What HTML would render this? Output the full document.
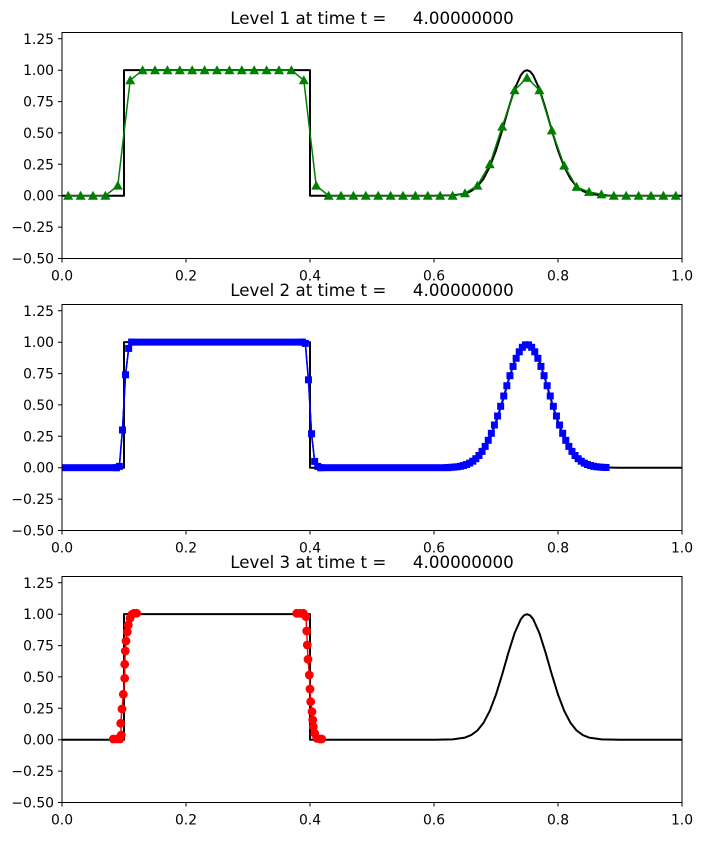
<!DOCTYPE html>
<html><head><meta charset="utf-8"><style>
body{margin:0;background:#fff}
svg text{font-family:"DejaVu Sans","Liberation Sans",sans-serif;fill:#000}
</style></head><body>
<svg width="702" height="836" xmlns="http://www.w3.org/2000/svg">
<defs>
<path id="ex" fill="none" stroke="#000" stroke-width="2" stroke-linejoin="round" d="M62 0 L124 0 L124 -125.56 L310 -125.56 L310 0 L434 0 L452.6 -0.35 L465 -2.1 L471.2 -4.6 L477.4 -9.2 L483.6 -17 L489.8 -28.9 L496 -45.2 L502.2 -65.3 L508.4 -87 L514.6 -106.6 L520.8 -120.5 L523.9 -124.3 L527 -125.56 L530.1 -124.3 L533.2 -120.5 L539.4 -106.6 L545.6 -87 L551.8 -65.3 L558 -45.2 L564.2 -28.9 L570.4 -17 L576.6 -9.2 L582.8 -4.6 L589 -2.1 L601.4 -0.35 L620 0 L682 0"/>
<marker id="tri" markerUnits="userSpaceOnUse" viewBox="-6 -6 12 12" markerWidth="12" markerHeight="12" refX="0" refY="0"><path d="M0 -5 L5 4 L-5 4Z" fill="green"/></marker>
<marker id="sq" markerUnits="userSpaceOnUse" viewBox="-4 -4 8 8" markerWidth="8" markerHeight="8" refX="0" refY="0"><rect x="-3.5" y="-3.5" width="7" height="7" fill="blue"/></marker>
<marker id="dot" markerUnits="userSpaceOnUse" viewBox="-5 -5 10 10" markerWidth="10" markerHeight="10" refX="0" refY="0"><circle r="4.4" fill="red"/></marker>
<clipPath id="c1"><rect x="62" y="32.5" width="620" height="226"/></clipPath>
<clipPath id="c2"><rect x="62" y="304.5" width="620" height="226"/></clipPath>
<clipPath id="c3"><rect x="62" y="576.5" width="620" height="226"/></clipPath>
</defs>

<text x="372" y="24" font-size="16.7" text-anchor="middle" xml:space="preserve">Level 1 at time t =     4.00000000</text>
<text x="372" y="296" font-size="16.7" text-anchor="middle" xml:space="preserve">Level 2 at time t =     4.00000000</text>
<text x="372" y="568" font-size="16.7" text-anchor="middle" xml:space="preserve">Level 3 at time t =     4.00000000</text>

<g clip-path="url(#c1)">
<use href="#ex" transform="translate(0,195.7)"/>
<polyline fill="none" stroke="green" stroke-width="1.5" marker-start="url(#tri)" marker-mid="url(#tri)" marker-end="url(#tri)" points="68.2,195.7 80.6,195.7 93,195.7 105.4,195.7 117.8,185.6 130.2,80.2 142.6,70.2 155,70.2 167.4,70.2 179.8,70.2 192.2,70.2 204.6,70.2 217,70.2 229.4,70.2 241.8,70.2 254.2,70.2 266.6,70.2 279,70.2 291.4,70.2 303.8,80.2 316.2,185.6 328.6,195.7 341,195.7 353.4,195.7 365.8,195.7 378.2,195.7 390.6,195.7 403,195.7 415.4,195.7 427.8,195.7 440.2,195.7 452.6,195.7 465,193.2 477.4,185.6 489.8,164.3 502.2,126.6 514.6,90.2 527,77.7 539.4,90.2 551.8,130.4 564.2,165.6 576.6,186.9 589,191.9 601.4,194.4 613.8,195.7 626.2,195.7 638.6,195.7 651,195.7 663.4,195.7 675.8,195.7"/>
</g>

<g clip-path="url(#c2)">
<use href="#ex" transform="translate(0,467.7)"/>
<polyline fill="none" stroke="blue" stroke-width="1.5" points="62,467.7 116.25,467.7 119.35,466.4 122.45,430 125.55,374.8 128.65,348.4 131.75,342.1 302.25,342.1 305.35,343.4 308.45,379.8 311.55,433.8 314.65,461.4 317.75,466.4 320.85,467.7 447.95,467.5"/>
<rect x="58" y="464.2" width="61.75" height="7" fill="blue"/>
<rect x="128.25" y="338.6" width="177.5" height="7" fill="blue"/>
<rect x="317.35" y="464.2" width="134.1" height="7" fill="blue"/>
<polyline fill="none" stroke="blue" stroke-width="1.5" marker-start="url(#sq)" marker-mid="url(#sq)" marker-end="url(#sq)" points="116.25,467.7 119.35,466.4 122.45,430 125.55,374.8 128.65,348.4 131.75,342.1"/>
<polyline fill="none" stroke="blue" stroke-width="1.5" marker-start="url(#sq)" marker-mid="url(#sq)" marker-end="url(#sq)" points="302.25,342.1 305.35,343.4 308.45,379.8 311.55,433.8 314.65,461.4 317.75,466.4 320.85,467.7"/>
<polyline fill="none" stroke="blue" stroke-width="1.5" marker-start="url(#sq)" marker-mid="url(#sq)" marker-end="url(#sq)" points="447.95,467.5 451.05,467.3 454.15,467.1 457.25,466.8 460.35,466.3 463.45,465.5 466.55,464.5 469.65,463.1 472.75,461.2 475.85,458.7 478.95,455.5 482.05,451.4 485.15,446.4 488.25,440.3 491.35,433.3 494.45,425.0 497.55,416.0 500.65,406.3 503.75,396.0 506.85,385.7 509.95,375.7 513.05,366.4 516.15,358.3 519.25,351.8 522.35,347.3 525.45,344.9 528.55,344.9 531.65,347.3 534.75,351.8 537.85,358.3 540.95,366.4 544.05,375.7 547.15,385.7 550.25,396.0 553.35,406.3 556.45,416.0 559.55,425.0 562.65,433.3 565.75,440.3 568.85,446.4 571.95,451.4 575.05,455.5 578.15,458.7 581.25,461.2 584.35,463.1 587.45,464.5 590.55,465.5 593.65,466.3 596.75,466.8 599.85,467.1 602.95,467.3 606.05,467.5"/>
</g>

<g clip-path="url(#c3)">
<use href="#ex" transform="translate(0,739.7)"/>
<polyline fill="none" stroke="red" stroke-width="1.5" marker-start="url(#dot)" marker-mid="url(#dot)" marker-end="url(#dot)" points="113.3,739 116.7,739 120,739 121.3,735 120.7,723.3 122,709 123.3,694.3 124.7,678.3 124.7,664.3 125.3,651 126,641 127.3,632 128.3,625 130,618.3 132,614.3 134,613.3 136.7,613.3"/>
<polyline fill="none" stroke="red" stroke-width="1.5" marker-start="url(#dot)" marker-mid="url(#dot)" marker-end="url(#dot)" points="296.7,613.3 300,613.3 303.3,613.3 306,616.7 306.7,631 307.3,645 308,659.3 309.3,675 310,689 310.7,701.7 312,711.7 312.7,720 313.3,726.7 314.7,733.3 316.7,738.3 320,739 321.7,739"/>
</g>

<g fill="none" stroke="#000" stroke-width="1">
<rect x="62" y="32.5" width="620" height="226"/>
<rect x="62" y="304.5" width="620" height="226"/>
<rect x="62" y="576.5" width="620" height="226"/>
<path d="M58 38.8H62M58 70.2H62M58 101.6H62M58 132.9H62M58 164.3H62M58 195.7H62M58 227.1H62M58 258.5H62
M58 310.8H62M58 342.2H62M58 373.6H62M58 404.9H62M58 436.3H62M58 467.7H62M58 499.1H62M58 530.5H62
M58 582.8H62M58 614.2H62M58 645.6H62M58 676.9H62M58 708.3H62M58 739.7H62M58 771.1H62M58 802.5H62
M62 258.5V262.5M186 258.5V262.5M310 258.5V262.5M434 258.5V262.5M558 258.5V262.5M682 258.5V262.5
M62 530.5V534.5M186 530.5V534.5M310 530.5V534.5M434 530.5V534.5M558 530.5V534.5M682 530.5V534.5
M62 802.5V806.5M186 802.5V806.5M310 802.5V806.5M434 802.5V806.5M558 802.5V806.5M682 802.5V806.5"/>
</g>

<g font-size="13.9">
<g text-anchor="end">
<text x="54" y="43.8">1.25</text><text x="54" y="75.2">1.00</text><text x="54" y="106.6">0.75</text><text x="54" y="137.9">0.50</text><text x="54" y="169.3">0.25</text><text x="54" y="200.7">0.00</text><text x="54" y="232.1">−0.25</text><text x="54" y="263.5">−0.50</text>
<text x="54" y="315.8">1.25</text><text x="54" y="347.2">1.00</text><text x="54" y="378.6">0.75</text><text x="54" y="409.9">0.50</text><text x="54" y="441.3">0.25</text><text x="54" y="472.7">0.00</text><text x="54" y="504.1">−0.25</text><text x="54" y="535.5">−0.50</text>
<text x="54" y="587.8">1.25</text><text x="54" y="619.2">1.00</text><text x="54" y="650.6">0.75</text><text x="54" y="681.9">0.50</text><text x="54" y="713.3">0.25</text><text x="54" y="744.7">0.00</text><text x="54" y="776.1">−0.25</text><text x="54" y="807.5">−0.50</text>
</g>
<g text-anchor="middle">
<text x="62" y="280.5">0.0</text><text x="186" y="280.5">0.2</text><text x="310" y="280.5">0.4</text><text x="434" y="280.5">0.6</text><text x="558" y="280.5">0.8</text><text x="682" y="280.5">1.0</text>
<text x="62" y="552.5">0.0</text><text x="186" y="552.5">0.2</text><text x="310" y="552.5">0.4</text><text x="434" y="552.5">0.6</text><text x="558" y="552.5">0.8</text><text x="682" y="552.5">1.0</text>
<text x="62" y="824.5">0.0</text><text x="186" y="824.5">0.2</text><text x="310" y="824.5">0.4</text><text x="434" y="824.5">0.6</text><text x="558" y="824.5">0.8</text><text x="682" y="824.5">1.0</text>
</g></g>
</svg>
</body></html>
